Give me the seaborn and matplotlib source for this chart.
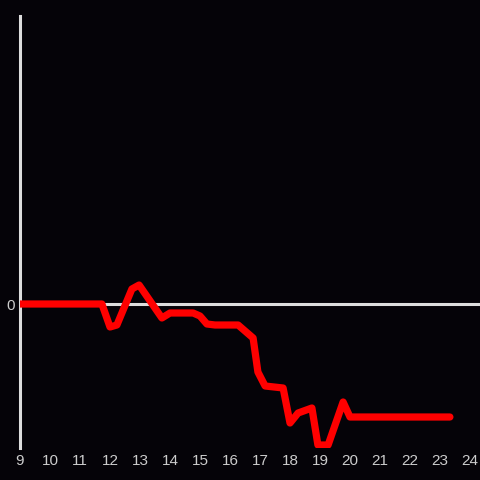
import numpy as np
import pandas as pd
import seaborn as sns
import matplotlib
matplotlib.use("Agg")
import matplotlib.pyplot as plt

# values
hours = [9.0, 11.73, 12.0, 12.23, 12.73, 12.97, 13.73, 14.0, 14.77, 15.0, 15.23, 15.5,
         16.27, 16.77, 16.93, 17.17, 17.77, 18.0, 18.27, 18.73, 18.93, 19.27, 19.77, 20.0, 23.33]
change = [0, 0, -2.3, -2.1, 1.5, 1.9, -1.4, -0.9, -0.9, -1.2, -2.0, -2.1,
          -2.1, -3.4, -6.8, -8.2, -8.4, -11.9, -10.9, -10.4, -14.1, -14.1, -9.8, -11.3, -11.3]
xticks = list(range(9, 25))

df = pd.DataFrame({"hour": hours, "change": change})

bg = "#050308"
sns.set_style("dark", {"axes.facecolor": bg, "figure.facecolor": bg})
plt.rcParams["font.family"] = ["Liberation Sans Narrow", "Liberation Sans", "DejaVu Sans"]

fig = plt.figure(figsize=(4.8, 4.8), dpi=100)
ax = fig.add_axes([20/480, 32/480, 460/480, 432/480])
ax.set_facecolor(bg)

ax.axhline(0, color="#dddddd", lw=2.2, zorder=1)
sns.lineplot(data=df, x="hour", y="change", color="#ff0000", lw=5.2, ax=ax, zorder=3,
             solid_joinstyle="round")

ax.set_xlim(9, 24.333)
ax.set_ylim(-14.4, 28.8)
ax.set_xticks(xticks)
ax.set_xticklabels([str(t) for t in xticks])
ax.set_yticks([0])
ax.set_yticklabels(["0"])
ax.tick_params(axis="both", length=0, colors="#cccccc", labelsize=11)
ax.tick_params(axis="x", pad=4.5)
ax.tick_params(axis="y", pad=3.5)
ax.set_xlabel("")
ax.set_ylabel("")
ax.grid(False)
for s in ["top", "right", "bottom"]:
    ax.spines[s].set_visible(False)
ax.spines["left"].set_color("#dddddd")
ax.spines["left"].set_linewidth(2.2)

fig.savefig("out.png", dpi=100, facecolor=bg)
